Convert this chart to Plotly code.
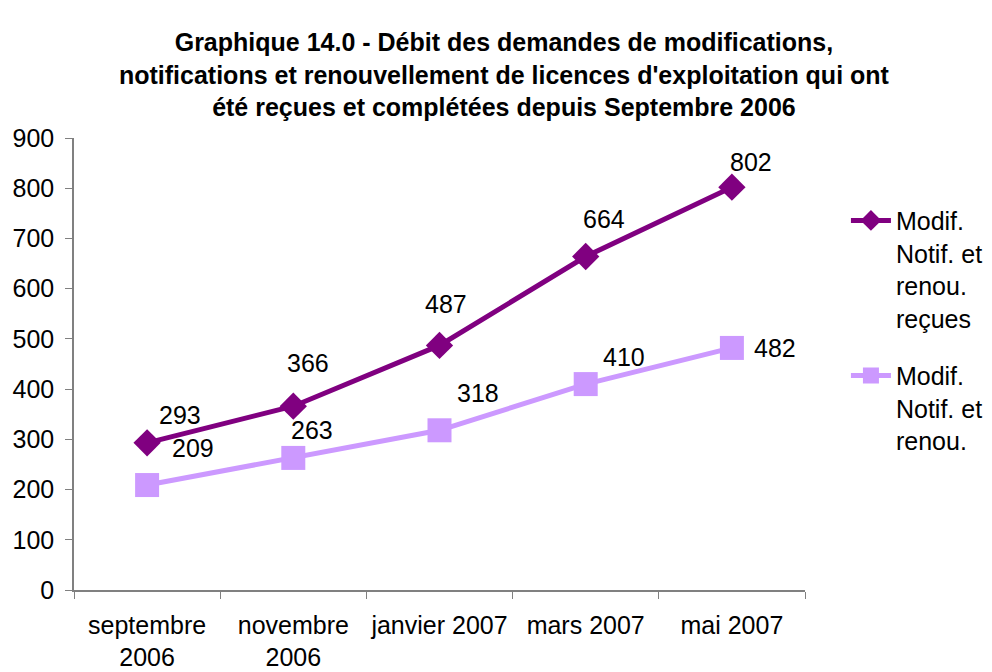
import plotly.graph_objects as go

# data
months = ["septembre<br>2006", "novembre<br>2006", "janvier 2007", "mars 2007", "mai 2007"]
recues = [293, 366, 487, 664, 802]
completees = [209, 263, 318, 410, 482]

name_recues = "Modif.<br>Notif. et<br>renou.<br>reçues"
name_completees = "Modif.<br>Notif. et<br>renou."

DARK = "#800080"
LIGHT = "#CC99FF"
FONT = "Liberation Sans, Arial, sans-serif"

# label offsets in pixels (dx, dy) relative to each point
off_recues = [(33, 28), (15, 43), (6, 41), (18, 38), (19, 25)]
off_completees = [(46, 37), (19, 28), (38, 37), (38, 27), (43, 0)]

fig = go.Figure()
fig.add_trace(go.Scatter(
    x=months, y=recues, name=name_recues, mode="lines+markers",
    legendgroup="a",
    line=dict(color=DARK, width=5),
    marker=dict(symbol="diamond", size=21, color=DARK)))
fig.add_trace(go.Scatter(
    x=months, y=completees, name=name_completees, mode="lines+markers",
    legendgroup="b",
    line=dict(color=LIGHT, width=5),
    marker=dict(symbol="square", size=24, color=LIGHT)))

for vals, offs in ((recues, off_recues), (completees, off_completees)):
    for m, v, (dx, dy) in zip(months, vals, offs):
        fig.add_annotation(x=m, y=v, text=str(v), showarrow=False,
                           xshift=dx, yshift=dy, font=dict(size=25, color="black"))

# page body has an 8px margin, so the figure is 8px smaller than the window
fig.update_layout(
    width=984, height=664,
    paper_bgcolor="white", plot_bgcolor="white",
    font=dict(family=FONT, size=25, color="black"),
    title=dict(
        text="<b>Graphique 14.0 - Débit des demandes de modifications,<br>"
             "notifications et renouvellement de licences d'exploitation qui ont<br>"
             "été reçues et complétées depuis Septembre 2006</b>",
        x=0.504, xanchor="center", y=1 - 43 / 664, yanchor="top",
        font=dict(size=25, family=FONT)),
    margin=dict(l=66, r=187, t=130, b=82, autoexpand=False),
    showlegend=True,
    legend=dict(x=1.056, y=0.868, xanchor="left", yanchor="top", valign="top",
                font=dict(size=25), tracegroupgap=22, itemwidth=40,
                bgcolor="rgba(0,0,0,0)"),
)
fig.update_xaxes(
    type="category", range=[-0.5, 4.5], tickangle=0,
    showgrid=False, zeroline=False, automargin=False,
    showline=True, linecolor="#808080", linewidth=1.5,
    ticks="outside", tickson="boundaries", ticklen=7, tickcolor="#808080",
    ticklabelstandoff=12, tickfont=dict(size=25))
fig.update_yaxes(
    range=[0, 900], dtick=100, showgrid=False, zeroline=False, automargin=False,
    showline=True, linecolor="#808080", linewidth=1.5,
    ticks="outside", ticklen=7, tickcolor="#808080", ticklabelstandoff=6,
    tickfont=dict(size=25))

fig.write_html("out.html")
